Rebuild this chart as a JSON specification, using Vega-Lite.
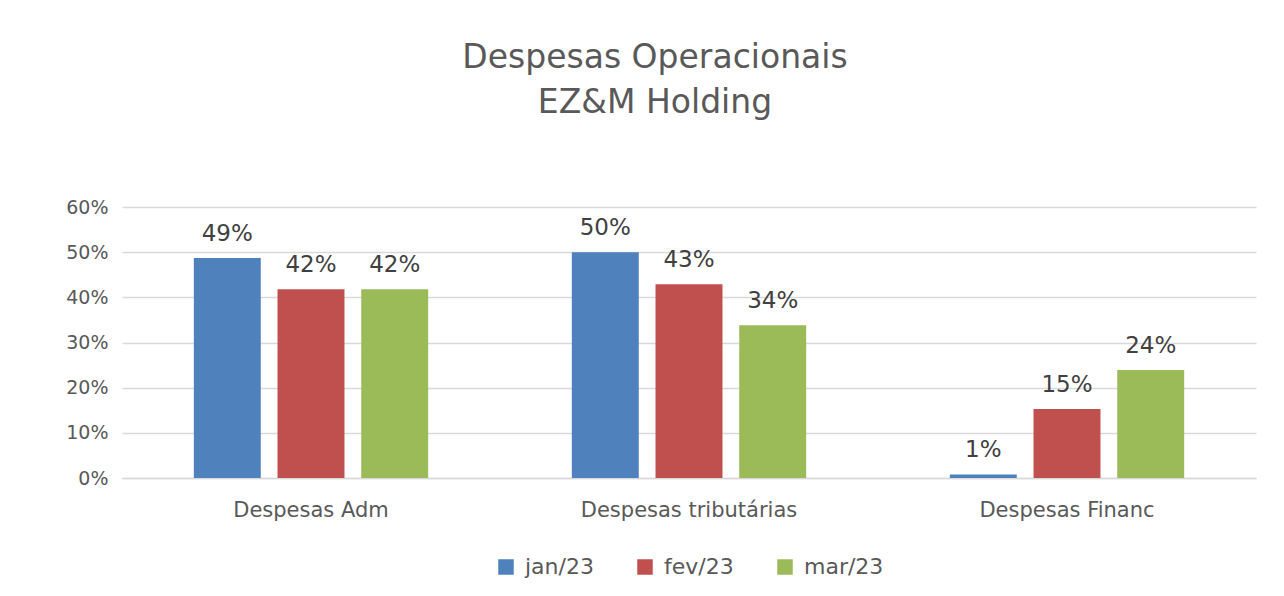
{
  "$schema": "https://vega.github.io/schema/vega-lite/v6.json",
  "width": 1134,
  "height": 271,
  "autosize": "none",
  "padding": {"left": 122, "top": 207, "right": 28, "bottom": 118},
  "background": "white",
  "title": {
    "text": ["Despesas Operacionais", "EZ&M Holding"],
    "font": "DejaVu Sans",
    "fontSize": 33,
    "fontWeight": "normal",
    "color": "#595959",
    "anchor": "middle",
    "dx": -34,
    "lineHeight": 45,
    "offset": 78
  },
  "data": {
    "values": [
      {"cat": "Despesas Adm", "month": "jan/23", "value": 0.487},
      {"cat": "Despesas Adm", "month": "fev/23", "value": 0.418},
      {"cat": "Despesas Adm", "month": "mar/23", "value": 0.418},
      {"cat": "Despesas tributárias", "month": "jan/23", "value": 0.5},
      {"cat": "Despesas tributárias", "month": "fev/23", "value": 0.429},
      {"cat": "Despesas tributárias", "month": "mar/23", "value": 0.338},
      {"cat": "Despesas Financ", "month": "jan/23", "value": 0.008},
      {"cat": "Despesas Financ", "month": "fev/23", "value": 0.153},
      {"cat": "Despesas Financ", "month": "mar/23", "value": 0.239}
    ]
  },
  "encoding": {
    "x": {
      "field": "cat",
      "type": "nominal",
      "sort": ["Despesas Adm", "Despesas tributárias", "Despesas Financ"],
      "scale": {"paddingInner": 0.38, "paddingOuter": 0.19},
      "axis": {
        "title": null,
        "labelAngle": 0,
        "labelFont": "DejaVu Sans",
        "labelFontSize": 21,
        "labelColor": "#595959",
        "labelPadding": 21,
        "labelLimit": 400,
        "ticks": false,
        "domainColor": "#D9D9D9",
        "domainWidth": 1.5
      }
    },
    "xOffset": {
      "field": "month",
      "type": "nominal",
      "sort": ["jan/23", "fev/23", "mar/23"],
      "scale": {"paddingInner": 0.2, "paddingOuter": 0}
    },
    "y": {
      "field": "value",
      "type": "quantitative",
      "scale": {"domain": [0, 0.6]},
      "axis": {
        "title": null,
        "format": ".0%",
        "values": [0, 0.1, 0.2, 0.3, 0.4, 0.5, 0.6],
        "labelFont": "DejaVu Sans",
        "labelFontSize": 19,
        "labelColor": "#595959",
        "labelPadding": 14,
        "ticks": false,
        "domain": false,
        "gridColor": "#D9D9D9",
        "gridWidth": 1.5
      }
    },
    "color": {
      "field": "month",
      "type": "nominal",
      "sort": ["jan/23", "fev/23", "mar/23"],
      "scale": {"domain": ["jan/23", "fev/23", "mar/23"], "range": ["#4F81BD", "#C0504D", "#9BBB59"]},
      "legend": {
        "title": null,
        "orient": "bottom",
        "direction": "horizontal",
        "symbolType": "square",
        "symbolSize": 240,
        "symbolStrokeWidth": 0,
        "labelFont": "DejaVu Sans",
        "labelFontSize": 22,
        "labelColor": "#595959",
        "labelOffset": 8,
        "columnPadding": 40,
        "offset": 36
      }
    }
  },
  "layer": [
    {"mark": {"type": "bar"}},
    {
      "mark": {"type": "text", "baseline": "bottom", "dy": -12, "font": "DejaVu Sans", "fontSize": 23, "color": "#404040"},
      "encoding": {
        "text": {"field": "value", "type": "quantitative", "format": ".0%"},
        "color": {"value": "#404040"}
      }
    }
  ],
  "config": {
    "view": {"stroke": null},
    "legend": {"layout": {"bottom": {"anchor": "middle"}}}
  }
}
